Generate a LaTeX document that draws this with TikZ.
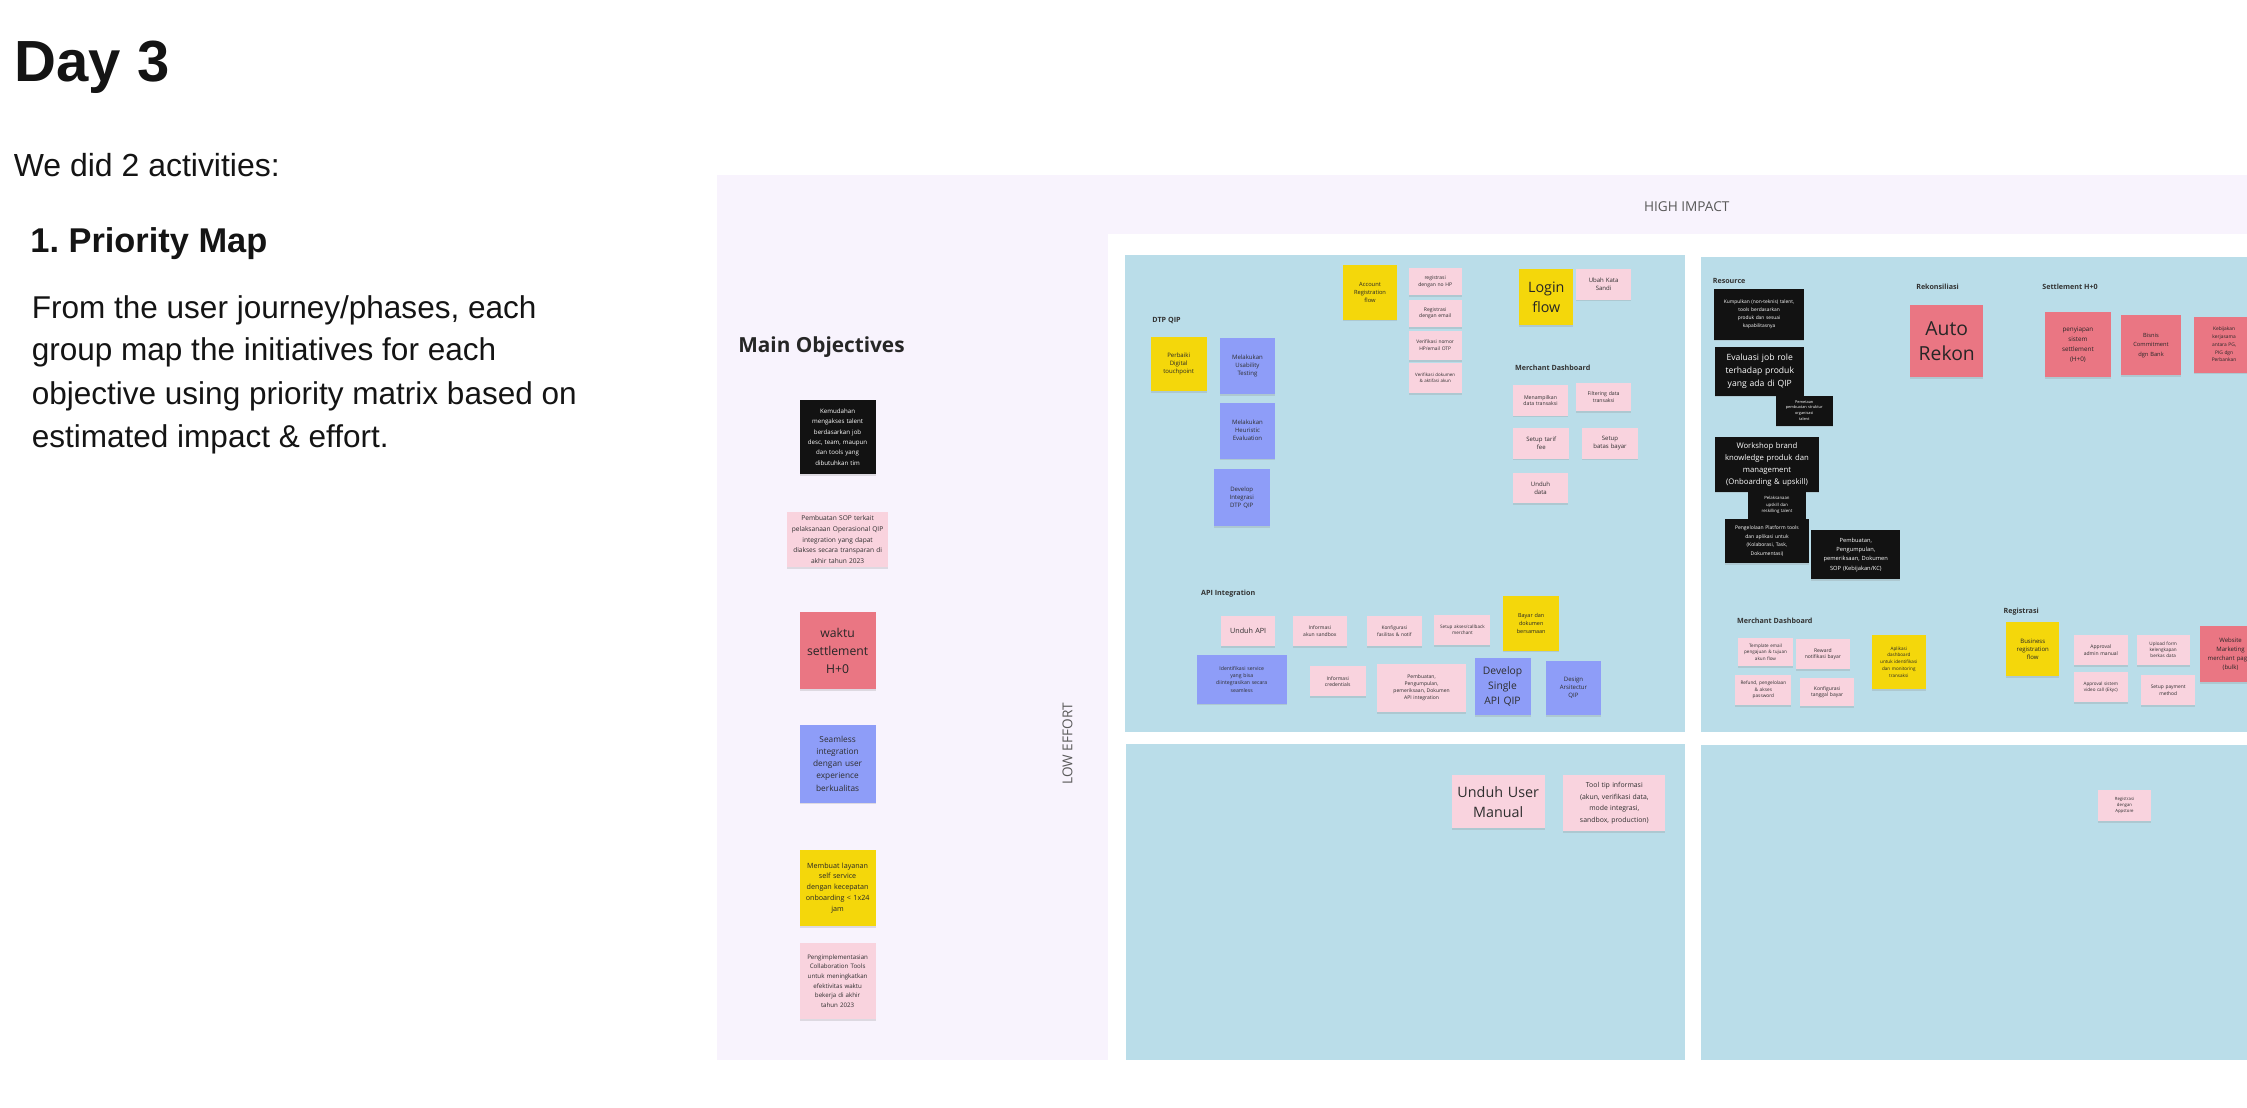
\documentclass[tikz,border=0pt]{standalone}
\usepackage{fontspec}
\setmainfont{Liberation Sans}
\newfontfamily\boardfont{Open Sans}
\usetikzlibrary{shadows}
\frenchspacing
\definecolor{lav}{HTML}{F8F3FD}
\definecolor{qblue}{HTML}{BADDE9}
\definecolor{spink}{HTML}{F9D3DE}
\definecolor{sred}{HTML}{EA7683}
\definecolor{sblue}{HTML}{8E9DF8}
\definecolor{syel}{HTML}{F4D70B}
\definecolor{sblack}{HTML}{121212}
\tikzset{
  stkbase/.style={inner sep=0.5pt, align=center,
    drop shadow={shadow xshift=0pt, shadow yshift=-1.3pt, opacity=0.22}},
  pinkn/.style={stkbase, fill=spink, text=black!82},
  redn/.style={stkbase, fill=sred, text=black!85},
  bluen/.style={stkbase, fill=sblue, text=black!82},
  yeln/.style={stkbase, fill=syel, text=black!85},
  blkn/.style={stkbase, fill=sblack, text=white},
  grplabel/.style={anchor=west, inner sep=0, font=\boardfont\bfseries\fontsize{5}{6}\selectfont, text=black!80},
  lefttext/.style={anchor=base west, inner sep=0, text=black!92},
}
\newcommand\stk[9]{%
  \pgfmathsetmacro\stkw{#5-#3}%
  \pgfmathsetmacro\stkh{#6-#4}%
  \pgfmathsetmacro\stktw{#5-#3-2}%
  \node[#1, minimum width=\stkw pt, minimum height=\stkh pt, text width=\stktw pt,
        font=\boardfont\fontsize{#7}{#8}\selectfont] (#2) at ({(#3+#5)/2},{(#4+#6)/2}) {#9};}
\begin{document}
\begin{tikzpicture}[x=1pt,y=-1pt]
\useasboundingbox (0,0) rectangle (1568,773);
\fill[white] (0,0) rectangle (1568,773);
\begin{scope}
\clip (0,0) rectangle (1568,773);
% left text
\node[lefttext, font=\bfseries\fontsize{40.5}{40}\selectfont] (day) at (10,57) {Day 3};
\node[lefttext, font=\fontsize{22.3}{22}\selectfont] (did) at (9.5,123.5) {We did 2 activities:};
\node[lefttext, font=\bfseries\fontsize{24}{24}\selectfont] (pm) at (21,176.5) {1. Priority Map};
\node[lefttext, font=\fontsize{22}{22}\selectfont] (p1) at (22,222) {From the user journey/phases, each};
\node[lefttext, font=\fontsize{22}{22}\selectfont] (p2) at (22,251.5) {group map the initiatives for each};
\node[lefttext, font=\fontsize{22}{22}\selectfont] (p3) at (22,282) {objective using priority matrix based on};
\node[lefttext, font=\fontsize{22}{22}\selectfont] (p4) at (22,312) {estimated impact \& effort.};
% board
\fill[lav] (500,122) rectangle (1568,740);
\fill[white] (773,163) rectangle (1568,740);
\fill[qblue] (785,178) rectangle (1176,511);
\fill[qblue] (1187,179) rectangle (1580,511);
\fill[qblue] (786,519) rectangle (1176,740);
\fill[qblue] (1187,520) rectangle (1580,740);
\node[font=\boardfont\fontsize{9.5}{10}\selectfont, text=black!65] (hi) at (1177,144) {HIGH IMPACT};
\node[rotate=90, font=\boardfont\fontsize{9.5}{10}\selectfont, text=black!65] (lo) at (745,519) {LOW EFFORT};
\node[anchor=west, inner sep=0, font=\boardfont\bfseries\fontsize{14.5}{15}\selectfont, text=black!85] (mo) at (515,242) {Main Objectives};
% main objectives
\stk{blkn}{mo1}{558}{279}{611}{331}{4.3}{7.2}{Kemudahan\\mengakses talent\\berdasarkan job\\desc, team, maupun\\dan tools yang\\dibutuhkan tim}
\stk{pinkn}{mo2}{549}{357}{620}{396}{4.6}{7.5}{Pembuatan SOP terkait\\pelaksanaan Operasional QIP\\integration yang dapat\\diakses secara transparan di\\akhir tahun 2023}
\stk{redn}{mo3}{558}{427}{611}{481}{8.5}{12.5}{waktu\\settlement\\H+0}
\stk{bluen}{mo4}{558}{506}{611}{560}{5.8}{8.4}{Seamless\\integration\\dengan user\\experience\\berkualitas}
\stk{yeln}{mo5}{558}{593}{611}{646}{5}{7.5}{Membuat layanan\\self service\\dengan kecepatan\\onboarding < 1x24\\jam}
\stk{pinkn}{mo6}{558}{658}{611}{711}{4.3}{6.7}{Pengimplementasian\\Collaboration Tools\\untuk meningkatkan\\efektivitas waktu\\bekerja di akhir\\tahun 2023}
% top-left quadrant
\node[grplabel] (lDTP) at (804,224) {DTP QIP};
\stk{yeln}{tl1}{803}{235}{842}{273}{4.2}{5.6}{Perbaiki\\Digital\\touchpoint}
\stk{bluen}{tl2}{851}{236}{890}{275}{4.2}{5.6}{Melakukan\\Usability\\Testing}
\stk{bluen}{tl3}{851}{281}{890}{320}{4.2}{5.6}{Melakukan\\Heuristic\\Evaluation}
\stk{bluen}{tl4}{847}{327}{886}{367}{4.2}{5.6}{Develop\\Integrasi\\DTP QIP}
\stk{yeln}{tl5}{937}{185}{975}{223}{4}{5.4}{Account\\Registration\\flow}
\stk{pinkn}{tl6}{983}{187}{1020}{206}{3.5}{4.6}{registrasi\\dengan no HP}
\stk{pinkn}{tl7}{983}{209}{1020}{228}{3.5}{4.6}{Registrasi\\dengan email}
\stk{pinkn}{tl8}{983}{231}{1020}{251}{3.4}{4.6}{Verifikasi nomor\\HP/email OTP}
\stk{pinkn}{tl9}{983}{253}{1020}{274}{3.1}{4.4}{Verifikasi dokumen\\\& aktifasi akun}
\stk{yeln}{tl10}{1060}{188}{1098}{227}{10}{14}{Login\\flow}
\stk{pinkn}{tl11}{1100}{188}{1138}{209}{4.2}{5.6}{Ubah Kata\\Sandi}
\node[grplabel] (lMD1) at (1057,257) {Merchant Dashboard};
\stk{pinkn}{tl12}{1056}{269}{1094}{290}{3.6}{4.8}{Menampilkan\\data transaksi}
\stk{pinkn}{tl13}{1100}{267}{1138}{287}{3.6}{4.8}{Filtering data\\transaksi}
\stk{pinkn}{tl14}{1056}{299}{1095}{320}{4.2}{5.6}{Setup tarif\\fee}
\stk{pinkn}{tl15}{1104}{299}{1143}{320}{4.2}{5.6}{Setup\\batas bayar}
\stk{pinkn}{tl16}{1056}{330}{1094}{351}{4.2}{5.6}{Unduh\\data}
\node[grplabel] (lAPI) at (838,414) {API Integration};
\stk{pinkn}{tl17}{852}{430}{890}{451}{5}{6}{Unduh API}
\stk{pinkn}{tl18}{902}{430}{940}{451}{3.5}{4.6}{Informasi\\akun sandbox}
\stk{pinkn}{tl19}{954}{430}{992}{451}{3.4}{4.6}{Konfigurasi\\fasilitas \& notif}
\stk{pinkn}{tl20}{1001}{429}{1040}{450}{3.2}{4.6}{Setup akses/callback\\merchant}
\stk{yeln}{tl21}{1049}{416}{1088}{454}{3.8}{5.4}{Bayar dan\\dokumen\\bersamaan}
\stk{bluen}{tl22}{835}{457}{898}{491}{3.6}{5.2}{Identifikasi service\\yang bisa\\diintegrasikan secara\\seamless}
\stk{pinkn}{tl23}{914}{465}{953}{486}{3.5}{4.6}{Informasi\\credentials}
\stk{pinkn}{tl24}{961}{463}{1023}{497}{3.5}{4.9}{Pembuatan,\\Pengumpulan,\\pemeriksaan, Dokumen\\API integration}
\stk{bluen}{tl25}{1029}{459}{1068}{499}{7.2}{10.5}{Develop\\Single\\API QIP}
\stk{bluen}{tl26}{1079}{461}{1117}{499}{4.2}{5.8}{Design\\Arsitectur\\QIP}
% top-right quadrant
\node[grplabel] (lRes) at (1195,196) {Resource};
\stk{blkn}{tr1}{1196}{202}{1259}{237}{3.4}{5.6}{Kumpulkan (non-teknis) talent,\\tools berdasarkan\\produk dan sesuai\\kapabilitasnya}
\stk{blkn}{tr2}{1197}{242}{1259}{276}{6}{9.3}{Evaluasi job role\\terhadap produk\\yang ada di QIP}
\stk{blkn}{tr3}{1239}{276}{1279}{297}{2.7}{4.1}{Pemetaan\\pembuatan struktur\\organisasi\\talent}
\stk{blkn}{tr4}{1197}{305}{1269}{343}{5.4}{8.4}{Workshop brand\\knowledge produk dan\\management\\(Onboarding \& upskill)}
\stk{blkn}{tr5}{1220}{343}{1260}{362}{3}{4.6}{Pelaksanaan\\upskill dan\\reskilling talent}
\stk{blkn}{tr6}{1204}{362}{1262}{393}{3.5}{6.2}{Pengelolaan Platform tools\\dan aplikasi untuk\\(Kolaborasi, Task,\\Dokumentasi)}
\stk{blkn}{tr7}{1264}{370}{1326}{404}{4}{6.5}{Pembuatan,\\Pengumpulan,\\pemeriksaan, Dokumen\\SOP (Kebijakan/KC)}
\node[grplabel] (lRek) at (1337,200) {Rekonsiliasi};
\stk{redn}{tr8}{1333}{213}{1384}{263}{13.5}{18}{Auto\\Rekon}
\node[grplabel] (lSet) at (1425,200) {Settlement H+0};
\stk{redn}{tr9}{1427}{218}{1473}{263}{4.4}{7}{penyiapan\\sistem\\settlement\\(H+0)}
\stk{redn}{tr10}{1480}{220}{1522}{262}{4}{6.5}{Bisnis\\Commitment\\dgn Bank}
\stk{redn}{tr11}{1531}{221}{1573}{260}{3.4}{5.4}{Kebijakan\\kerjasama\\antara PG,\\PIG dgn\\Perbankan}
\node[grplabel] (lMD2) at (1212,433) {Merchant Dashboard};
\stk{pinkn}{tr12}{1213}{445}{1251}{465}{3.2}{4.4}{Template email\\pengajuan \& tujuan\\akun flow}
\stk{pinkn}{tr13}{1253}{446}{1291}{467}{3.5}{4.8}{Reward\\notifikasi bayar}
\stk{pinkn}{tr14}{1211}{471}{1250}{492}{3.3}{4.6}{Refund, pengelolaan\\\& akses\\password}
\stk{pinkn}{tr15}{1256}{473}{1294}{493}{3.5}{4.8}{Konfigurasi\\tanggal bayar}
\stk{yeln}{tr16}{1306}{443}{1344}{481}{3.2}{4.8}{Aplikasi\\dashboard\\untuk identifikasi\\dan monitoring\\transaksi}
\node[grplabel] (lReg) at (1398,427) {Registrasi};
\stk{yeln}{tr17}{1400}{434}{1437}{472}{4.2}{5.8}{Business\\registration\\flow}
\stk{pinkn}{tr18}{1447}{443}{1485}{464}{3.5}{4.8}{Approval\\admin manual}
\stk{pinkn}{tr19}{1491}{443}{1528}{464}{3.2}{4.4}{Upload form\\kelengkapan\\berkas data}
\stk{pinkn}{tr20}{1447}{469}{1485}{490}{3.2}{4.6}{Approval sistem\\video call (Ekyc)}
\stk{pinkn}{tr21}{1494}{471}{1532}{492}{3.4}{4.8}{Setup payment\\method}
\stk{redn}{tr22}{1535}{437}{1578}{476}{4.2}{6.2}{Website\\Marketing\\merchant pages\\(bulk)}
% bottom quadrants
\stk{pinkn}{bl1}{1013}{541}{1078}{578}{10}{14}{Unduh User\\Manual}
\stk{pinkn}{bl2}{1091}{541}{1162}{580}{4.8}{8}{Tool tip informasi\\(akun, verifikasi data,\\mode integrasi,\\sandbox, production)}
\stk{pinkn}{br1}{1464}{551}{1501}{573}{3}{4.4}{Registrasi\\dengan\\Appstore}
\end{scope}
\end{tikzpicture}
\end{document}
